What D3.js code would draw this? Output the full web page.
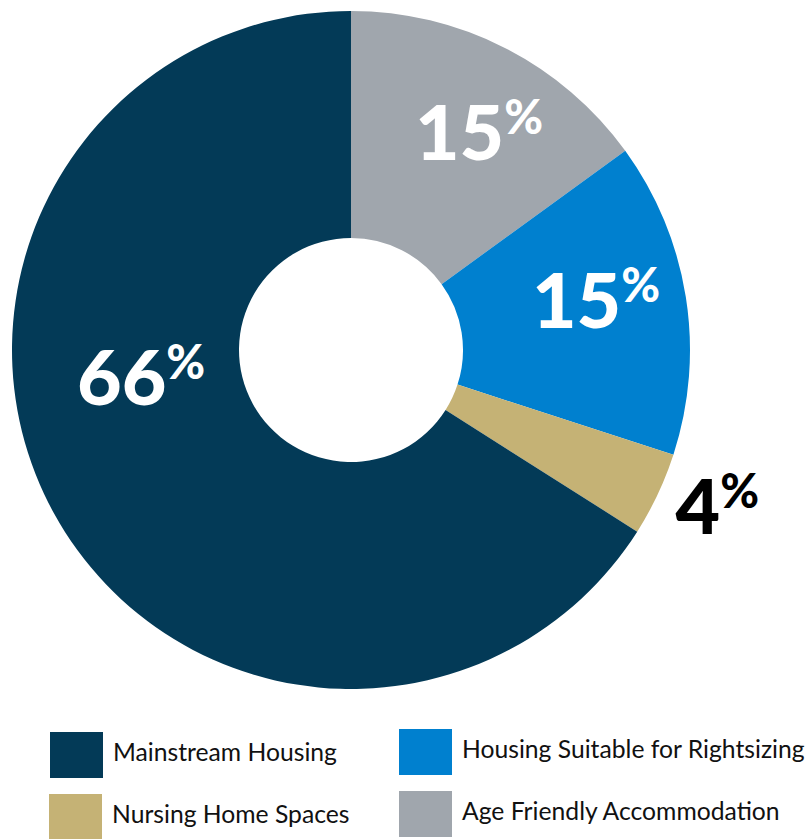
<!DOCTYPE html>
<html>
<head>
<meta charset="utf-8">
<script src="https://cdn.jsdelivr.net/npm/d3@7"></script>
<style>
html,body{margin:0;padding:0;background:#fff;}
svg{display:block;}
</style>
</head>
<body>
<svg id="chart" width="806" height="839"></svg>
<script>
const categories = ["Age Friendly Accommodation", "Housing Suitable for Rightsizing", "Nursing Home Spaces", "Mainstream Housing"];
const values = [15, 15, 4, 66];
const colors = ["#a0a6ad", "#0080cf", "#c5b275", "#033a57"];
const labelColors = ["#ffffff", "#ffffff", "#000000", "#ffffff"];
const legendOrder = ["Mainstream Housing", "Housing Suitable for Rightsizing", "Nursing Home Spaces", "Age Friendly Accommodation"];

const svg = d3.select("#chart");
const cx = 351, cy = 350, outerR = 339, innerR = 112;

const pie = d3.pie().sort(null).value(d => d)(values);
const arc = d3.arc().innerRadius(innerR).outerRadius(outerR);

const g = svg.append("g").attr("transform", `translate(${cx},${cy})`);
g.selectAll("path").data(pie).join("path")
  .attr("d", arc)
  .attr("fill", (d, i) => colors[i]);

// label placement (polar: angle in degrees from north, radius) for text baseline centre
const labelPlace = [
  {a: 34.0, r: 229},
  {a: 84.9, r: 246},
  {a: 116.7, r: 410},
  {a: 255.3, r: 217}
];
const labels = g.selectAll("text.lbl").data(pie).join("text")
  .attr("class", "lbl")
  .attr("font-family", "Lato, 'Open Sans', sans-serif")
  .attr("font-weight", 900)
  .attr("fill", (d, i) => labelColors[i])
  .attr("text-anchor", "middle")
  .attr("transform", (d, i) => {
    const p = labelPlace[i];
    const t = p.a * Math.PI / 180;
    return `translate(${p.r * Math.sin(t)},${-p.r * Math.cos(t)})`;
  });
labels.append("tspan").attr("font-size", 77).text(d => d.value);
labels.append("tspan").attr("font-size", 47).attr("dy", -26).attr("dx", 0).text("%");

// legend
const legend = svg.append("g").attr("font-family", "Lato, 'Open Sans', sans-serif");
const legendPos = [
  {x: 50, y: 732},
  {x: 399, y: 729},
  {x: 49, y: 794},
  {x: 399, y: 791}
];
legendOrder.forEach((name, i) => {
  const idx = categories.indexOf(name);
  const p = legendPos[i];
  const item = legend.append("g").attr("transform", `translate(${p.x},${p.y})`);
  item.append("rect").attr("width", 53).attr("height", 46).attr("fill", colors[idx]);
  item.append("text").attr("x", 63).attr("y", 29).attr("font-size", 24.7).attr("fill", "#111").text(name);
});
</script>
</body>
</html>
